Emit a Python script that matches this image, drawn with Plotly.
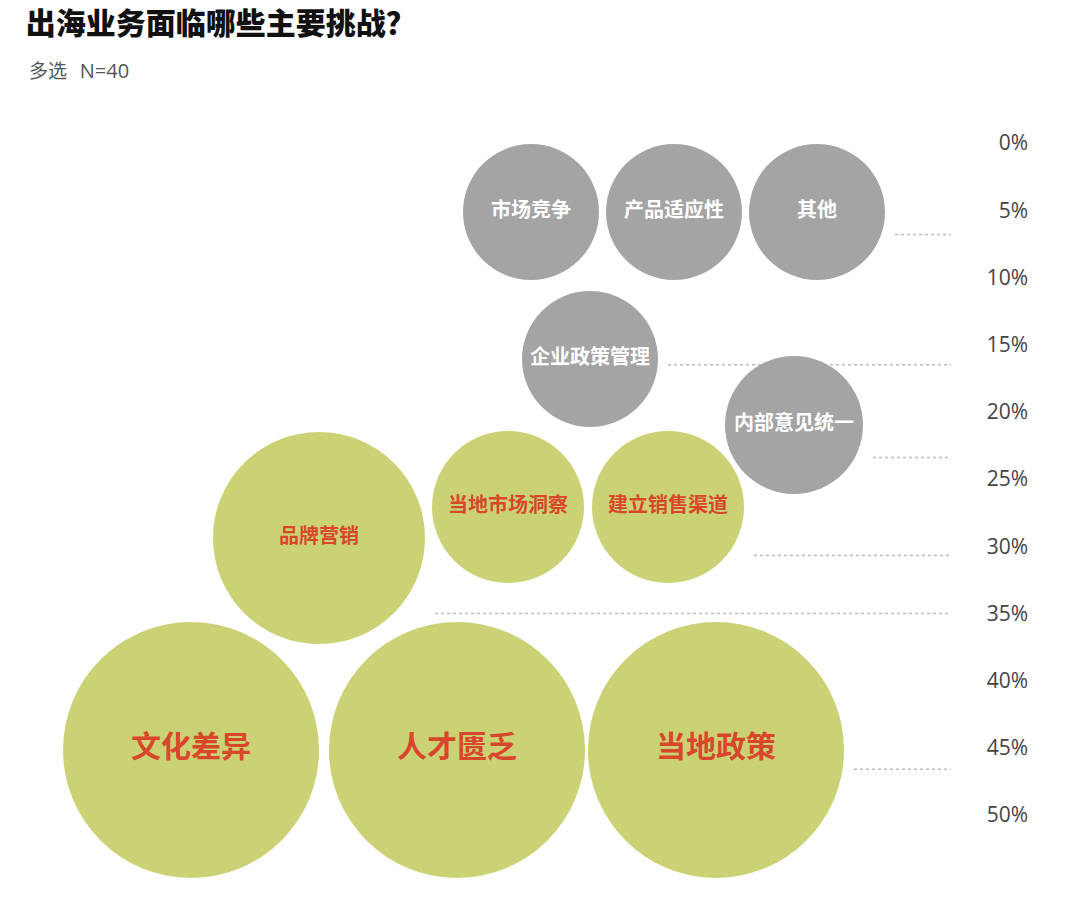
import plotly.graph_objects as go

# 数据：挑战项 / 占比(%)
challenges = ["市场竞争", "产品适应性", "其他", "企业政策管理", "内部意见统一",
              "当地市场洞察", "建立销售渠道", "品牌营销", "文化差异", "人才匮乏", "当地政策"]
share_pct = [6.8, 6.8, 6.8, 16.5, 23.4, 30.7, 30.7, 35.0, 46.6, 46.6, 46.6]
highlight = [False, False, False, False, False, True, True, True, True, True, True]
tick_vals = [0, 5, 10, 15, 20, 25, 30, 35, 40, 45, 50]
tick_text = [f"{v}%" for v in tick_vals]

# 版式：气泡位置(x 像素, y 轴单位) 与直径
bubble_x = [531, 674, 817, 590, 794, 508, 668, 319, 191, 457, 716]
bubble_y = [5.13, 5.13, 5.13, 16.07, 20.98, 27.08, 27.08, 29.39, 45.16, 45.16, 45.16]
bubble_d = [136, 136, 136, 136, 138, 152, 152, 212, 256, 256, 256]
line_end_x = 951

GRAY = "#a4a4a4"
GREEN = "#cbd275"
RED = "#d9472b"
CJK = "Noto Sans CJK SC"

fig = go.Figure()

# 虚线引导线，每个数值一条
for v in sorted(set(share_pct)):
    idx = [i for i, s in enumerate(share_pct) if s == v]
    x0 = max(bubble_x[i] + bubble_d[i] / 2 for i in idx) + 10
    fig.add_trace(go.Scatter(
        x=[x0, line_end_x], y=[v, v], mode="lines",
        line=dict(color="#bbbbbb", width=1.5, dash="dot"),
        hoverinfo="skip", showlegend=False,
    ))

fig.add_trace(go.Scatter(
    x=bubble_x, y=bubble_y,
    mode="markers+text",
    text=challenges,
    textposition="middle center",
    textfont=dict(
        family=CJK,
        size=[30 if d > 240 else 20 for d in bubble_d],
        color=[RED if h else "white" for h in highlight],
        weight="bold",
    ),
    marker=dict(
        size=bubble_d, sizemode="diameter",
        color=[GREEN if h else GRAY for h in highlight],
        opacity=1, line=dict(width=0),
    ),
    customdata=share_pct,
    hovertemplate="%{text}: %{customdata}%<extra></extra>",
    showlegend=False,
))

fig.update_layout(
    width=1080, height=897,
    margin=dict(l=0, r=49, t=0, b=0),
    paper_bgcolor="white", plot_bgcolor="white",
    title=dict(
        text="出海业务面临哪些主要挑战？",
        font=dict(family=CJK, size=30, color="#111111", weight=900),
        x=27 / 1080, xanchor="left", xref="paper",
        y=1 - 23 / 897, yanchor="middle", yref="container",
    ),
    annotations=[dict(
        text="多选\u00a0\u00a0\u00a0<span style='font-family:Open Sans;font-size:20px'>N=40</span>",
        x=28 / 1080, y=1 - 70 / 897, xref="paper", yref="paper",
        xanchor="left", yanchor="middle", showarrow=False,
        font=dict(family=CJK, size=19, color="#555555"),
    )],
    xaxis=dict(range=[0, 1031], visible=False, fixedrange=True),
    yaxis=dict(
        range=[56.1, -10.64], side="right",
        tickmode="array", tickvals=tick_vals, ticktext=tick_text,
        ticklabelposition="inside", ticks="",
        showgrid=False, zeroline=False, showline=False,
        tickfont=dict(family="Open Sans", size=21, color="#444444"),
        fixedrange=True,
    ),
)

fig.write_html("out.html", config={"displayModeBar": False},
               post_script="document.body.style.margin='0';")
